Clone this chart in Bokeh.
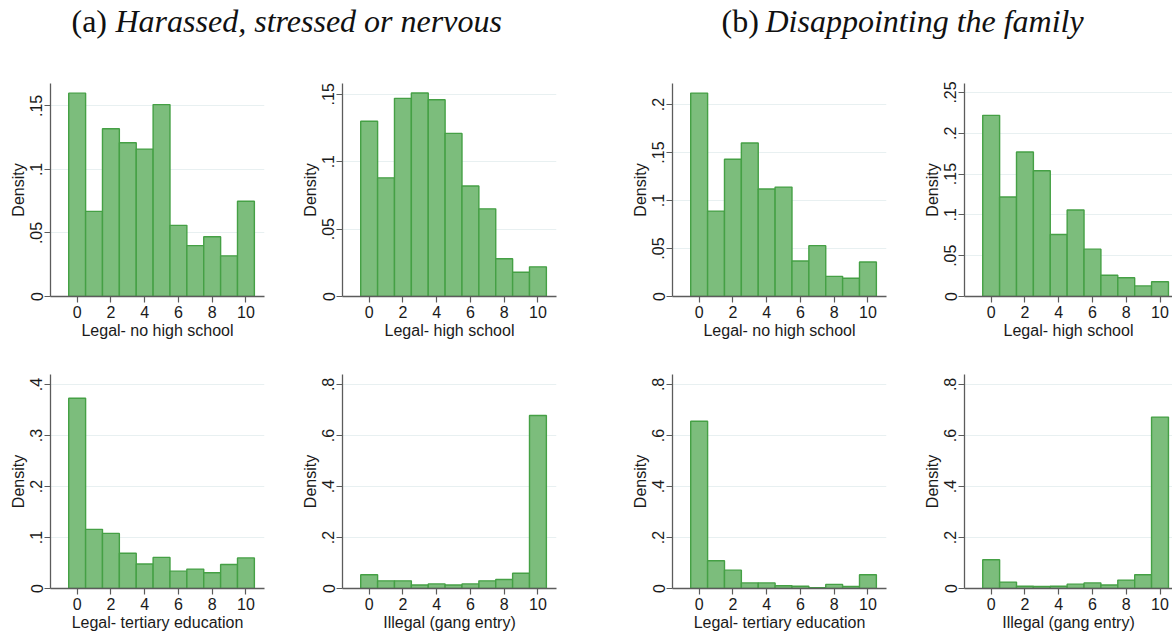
from bokeh.plotting import figure
from bokeh.layouts import column, row
from bokeh.models import FixedTicker, CustomJSTickFormatter, Label
from bokeh.embed import file_html
from bokeh.resources import INLINE

# ---------------- data ----------------
scores = [0, 1, 2, 3, 4, 5, 6, 7, 8, 9, 10]

harassed_nohs = [0.160, 0.067, 0.132, 0.121, 0.116, 0.151, 0.056, 0.040, 0.047, 0.032, 0.075]
harassed_hs = [0.130, 0.088, 0.147, 0.151, 0.146, 0.121, 0.082, 0.065, 0.028, 0.018, 0.022]
harassed_tert = [0.373, 0.116, 0.108, 0.069, 0.048, 0.061, 0.034, 0.038, 0.031, 0.047, 0.060]
harassed_illegal = [0.054, 0.030, 0.030, 0.014, 0.018, 0.014, 0.018, 0.030, 0.035, 0.060, 0.678]

family_nohs = [0.212, 0.089, 0.143, 0.160, 0.112, 0.114, 0.037, 0.053, 0.021, 0.019, 0.036]
family_hs = [0.222, 0.122, 0.177, 0.154, 0.076, 0.106, 0.058, 0.026, 0.023, 0.013, 0.018]
family_tert = [0.656, 0.109, 0.072, 0.022, 0.022, 0.011, 0.009, 0.003, 0.016, 0.008, 0.054]
family_illegal = [0.113, 0.025, 0.009, 0.008, 0.009, 0.017, 0.022, 0.014, 0.033, 0.054, 0.672]

x_ticks = [0, 2, 4, 6, 8, 10]
y_ticks_15 = [0, 0.05, 0.10, 0.15]
y_labels_15 = ["0", ".05", ".1", ".15"]
y_ticks_20 = [0, 0.05, 0.10, 0.15, 0.20]
y_labels_20 = ["0", ".05", ".1", ".15", ".2"]
y_ticks_25 = [0, 0.05, 0.10, 0.15, 0.20, 0.25]
y_labels_25 = ["0", ".05", ".1", ".15", ".2", ".25"]
y_ticks_4 = [0, 0.1, 0.2, 0.3, 0.4]
y_labels_4 = ["0", ".1", ".2", ".3", ".4"]
y_ticks_8 = [0, 0.2, 0.4, 0.6, 0.8]
y_labels_8 = ["0", ".2", ".4", ".6", ".8"]

xlab_nohs = "Legal- no high school"
xlab_hs = "Legal- high school"
xlab_tert = "Legal- tertiary education"
xlab_illegal = "Illegal (gang entry)"
ylab = "Density"

title_a_tag = "(a)"
title_a = "Harassed, stressed or nervous"
title_b_tag = "(b)"
title_b = "Disappointing the family"

# ---------------- style ----------------
FILL = "#7cbd7c"
EDGE = "#45a045"
AXIS = "#5c5c5c"
GRID = "#e8f0f1"
TXT = "#1a1a1a"
SANS = "Liberation Sans"
SERIF = "Liberation Serif"


def panel(vals, xlab, yt, yl, ytop, width, bl, br, height, bt, bb, xend):
    p = figure(width=width, height=height, output_backend="svg", toolbar_location=None,
               x_range=(-1.58, xend), y_range=(0, ytop),
               min_border_left=bl, min_border_right=br, min_border_top=bt, min_border_bottom=bb)
    p.outline_line_color = None
    p.background_fill_color = "white"
    p.border_fill_color = "white"
    p.vbar(x=scores, top=vals, width=1.0, bottom=0, fill_color=FILL,
           line_color=EDGE, line_width=1.4)
    p.xgrid.visible = False
    p.ygrid.ticker = FixedTicker(ticks=yt[1:])
    p.ygrid.grid_line_color = GRID
    p.ygrid.grid_line_width = 1.2

    xa = p.xaxis[0]
    xa.ticker = FixedTicker(ticks=x_ticks)
    xa.axis_label = xlab
    ya = p.yaxis[0]
    ya.ticker = FixedTicker(ticks=yt)
    ya.axis_label = ylab
    ya.formatter = CustomJSTickFormatter(args=dict(t=yt, l=yl), code="""
        for (let i = 0; i < t.length; i++) { if (Math.abs(t[i] - tick) < 1e-9) return l[i]; }
        return '';
    """)
    ya.major_label_orientation = "vertical"
    for ax in (xa, ya):
        ax.axis_line_color = AXIS
        ax.axis_line_width = 1.3
        ax.major_tick_line_color = AXIS
        ax.major_tick_line_width = 1.2
        ax.major_tick_out = 6
        ax.major_tick_in = 0
        ax.minor_tick_line_color = None
        ax.major_label_text_font = SANS
        ax.major_label_text_font_size = "16px"
        ax.major_label_text_color = TXT
        ax.axis_label_text_font = SANS
        ax.axis_label_text_font_style = "normal"
        ax.axis_label_text_color = TXT
    xa.major_label_standoff = 3
    xa.axis_label_text_font_size = "16px"
    xa.axis_label_standoff = 1
    ya.major_label_standoff = 2
    ya.axis_label_text_font_size = "16px"
    ya.axis_label_standoff = 1
    return p


# geometry (page has no margin: coordinates are the window's)
H1, T1, B1 = 300, 38, 49
H2, T2, B2 = 292, 29, 49

f1 = panel(harassed_nohs, xlab_nohs, y_ticks_15, y_labels_15, 0.1676, 296, 50, 32, H1, T1, B1, 11.1)
f2 = panel(harassed_hs, xlab_hs, y_ticks_15, y_labels_15, 0.158, 329, 46, 69, H1, T1, B1, 11.1)
f3 = panel(family_nohs, xlab_nohs, y_ticks_20, y_labels_20, 0.222, 293, 47, 32, H1, T1, B1, 11.1)
f4 = panel(family_hs, xlab_hs, y_ticks_25, y_labels_25, 0.261, 254, 46, 0, H1, T1, B1, 10.74)

f5 = panel(harassed_tert, xlab_tert, y_ticks_4, y_labels_4, 0.4196, 296, 50, 32, H2, T2, B2, 11.1)
f6 = panel(harassed_illegal, xlab_illegal, y_ticks_8, y_labels_8, 0.839, 329, 46, 69, H2, T2, B2, 11.1)
f7 = panel(family_tert, xlab_tert, y_ticks_8, y_labels_8, 0.839, 293, 47, 32, H2, T2, B2, 11.1)
f8 = panel(family_illegal, xlab_illegal, y_ticks_8, y_labels_8, 0.839, 254, 46, 0, H2, T2, B2, 10.74)

# title strip
TH = 45
tf = figure(width=1172, height=TH, output_backend="svg", toolbar_location=None,
            x_range=(0, 1172), y_range=(0, TH),
            min_border_left=0, min_border_right=0, min_border_top=0, min_border_bottom=0)
tf.axis.visible = False
tf.grid.visible = False
tf.outline_line_color = None
for (xx, txt, style) in [(71, title_a_tag, "normal"), (115, title_a, "italic"),
                         (721, title_b_tag, "normal"), (765, title_b, "italic")]:
    tf.add_layout(Label(x=xx, y=TH - 20, text=txt, text_font=SERIF, text_font_size="32px",
                        text_font_style=style, text_color="#111111", text_baseline="alphabetic"))

layout = column(tf, row(f1, f2, f3, f4), row(f5, f6, f7, f8))

open("out.html", "w").write(file_html(layout, INLINE))
